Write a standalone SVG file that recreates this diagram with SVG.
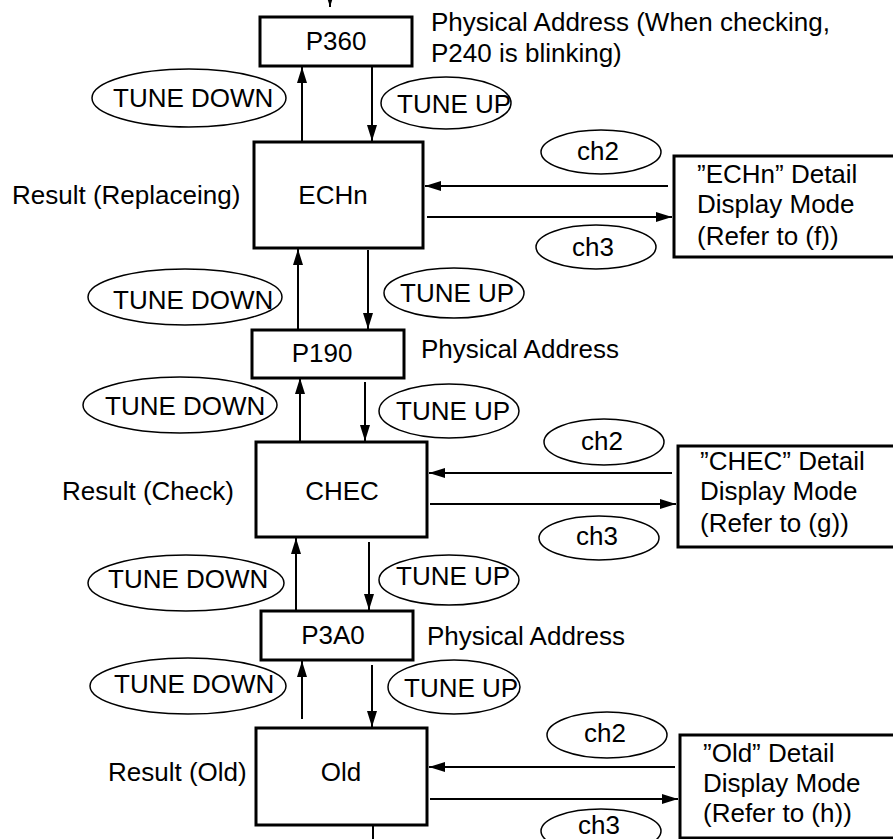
<svg xmlns="http://www.w3.org/2000/svg" width="893" height="839" viewBox="0 0 893 839">
<style>
text{font-family:"Liberation Sans",Arial,sans-serif;font-size:26px;fill:#000}
.box{fill:#fff;stroke:#000;stroke-width:3}
.ell{fill:none;stroke:#000;stroke-width:1.5}
.c{fill:none;stroke:#000;stroke-width:2}
.m{text-anchor:middle}
</style>
<defs>
<marker id="ah" markerUnits="userSpaceOnUse" markerWidth="16" markerHeight="10" refX="16" refY="5" orient="auto">
<path d="M0,0 L16,5 L0,10 z" fill="#000"/>
</marker>
</defs>
<rect width="893" height="839" fill="#fff"/>

<g id="connectors">
<line class="c" x1="330" y1="-10" x2="330" y2="7" marker-end="url(#ah)"/>
<line class="c" x1="302" y1="142" x2="302" y2="67" marker-end="url(#ah)"/>
<line class="c" x1="372" y1="66" x2="372" y2="141" marker-end="url(#ah)"/>
<line class="c" x1="298" y1="330" x2="298" y2="249" marker-end="url(#ah)"/>
<line class="c" x1="368" y1="250" x2="368" y2="329" marker-end="url(#ah)"/>
<line class="c" x1="300" y1="442" x2="300" y2="378" marker-end="url(#ah)"/>
<line class="c" x1="365" y1="382" x2="365" y2="441" marker-end="url(#ah)"/>
<line class="c" x1="296" y1="610" x2="296" y2="538" marker-end="url(#ah)"/>
<line class="c" x1="369" y1="542" x2="369" y2="610" marker-end="url(#ah)"/>
<line class="c" x1="302" y1="719" x2="302" y2="661" marker-end="url(#ah)"/>
<line class="c" x1="372" y1="665" x2="372" y2="727" marker-end="url(#ah)"/>
<line class="c" x1="373" y1="826" x2="373" y2="845"/>
<line class="c" x1="668" y1="186" x2="425" y2="186" marker-end="url(#ah)"/>
<line class="c" x1="427" y1="217" x2="672" y2="217" marker-end="url(#ah)"/>
<line class="c" x1="672" y1="473" x2="429" y2="473" marker-end="url(#ah)"/>
<line class="c" x1="430" y1="504" x2="676" y2="504" marker-end="url(#ah)"/>
<line class="c" x1="675" y1="767" x2="429" y2="767" marker-end="url(#ah)"/>
<line class="c" x1="430" y1="799" x2="678" y2="799" marker-end="url(#ah)"/>
</g>

<g id="labels-tune">
<ellipse class="ell" cx="189" cy="98" rx="97" ry="29"/>
<text x="113" y="107">TUNE DOWN</text>
<ellipse class="ell" cx="446" cy="103" rx="65" ry="26"/>
<text x="397" y="113">TUNE UP</text>
<ellipse class="ell" cx="185" cy="297" rx="97" ry="28"/>
<text x="113" y="309">TUNE DOWN</text>
<ellipse class="ell" cx="454" cy="293" rx="70" ry="25"/>
<text x="400" y="302">TUNE UP</text>
<ellipse class="ell" cx="180" cy="405" rx="97" ry="28"/>
<text x="105" y="415">TUNE DOWN</text>
<ellipse class="ell" cx="449" cy="411" rx="70" ry="27"/>
<text x="396" y="420">TUNE UP</text>
<ellipse class="ell" cx="186" cy="583" rx="98" ry="28"/>
<text x="108" y="588">TUNE DOWN</text>
<ellipse class="ell" cx="449" cy="580" rx="70" ry="25"/>
<text x="396" y="585">TUNE UP</text>
<ellipse class="ell" cx="188" cy="686" rx="98" ry="28"/>
<text x="114" y="693">TUNE DOWN</text>
<ellipse class="ell" cx="454" cy="687" rx="66" ry="27"/>
<text x="404" y="697">TUNE UP</text>
</g>

<g id="labels-ch">
<ellipse class="ell" cx="601" cy="152" rx="60" ry="22"/>
<text class="m" x="598" y="160">ch2</text>
<ellipse class="ell" cx="596" cy="247" rx="60" ry="22"/>
<text class="m" x="593" y="256">ch3</text>
<ellipse class="ell" cx="604" cy="442" rx="60" ry="23"/>
<text class="m" x="602" y="450">ch2</text>
<ellipse class="ell" cx="599" cy="538" rx="60" ry="22"/>
<text class="m" x="597" y="545">ch3</text>
<ellipse class="ell" cx="607" cy="735" rx="60" ry="23"/>
<text class="m" x="605" y="742">ch2</text>
<ellipse class="ell" cx="601" cy="831" rx="60" ry="22"/>
<text class="m" x="599" y="834">ch3</text>
</g>

<g id="P360">
<rect class="box" x="260" y="17" width="152" height="49"/>
<text class="m" x="336" y="50">P360</text>
<text x="431" y="31">Physical Address (When checking,</text>
<text x="431" y="62">P240 is blinking)</text>
</g>

<g id="ECHn">
<rect class="box" x="254" y="142" width="169" height="106"/>
<text class="m" x="333" y="204">ECHn</text>
<text x="12" y="204">Result (Replaceing)</text>
</g>

<g id="ECHn-detail">
<rect class="box" x="674" y="156" width="230" height="101"/>
<text x="697" y="183">”ECHn” Detail</text>
<text x="697" y="213">Display Mode</text>
<text x="697" y="245">(Refer to (f))</text>
</g>

<g id="P190">
<rect class="box" x="252" y="330" width="152" height="48"/>
<text class="m" x="322" y="362">P190</text>
<text x="421" y="358">Physical Address</text>
</g>

<g id="CHEC">
<rect class="box" x="256" y="442" width="171" height="95"/>
<text class="m" x="342" y="500">CHEC</text>
<text x="62" y="500">Result (Check)</text>
</g>

<g id="CHEC-detail">
<rect class="box" x="678" y="446" width="230" height="101"/>
<text x="700" y="470">”CHEC” Detail</text>
<text x="700" y="500">Display Mode</text>
<text x="700" y="532">(Refer to (g))</text>
</g>

<g id="P3A0">
<rect class="box" x="261" y="611" width="152" height="49"/>
<text class="m" x="333" y="644">P3A0</text>
<text x="427" y="645">Physical Address</text>
</g>

<g id="Old">
<rect class="box" x="256" y="728" width="171" height="97"/>
<text class="m" x="341" y="781">Old</text>
<text x="108" y="781">Result (Old)</text>
</g>

<g id="Old-detail">
<rect class="box" x="680" y="735" width="230" height="103"/>
<text x="703" y="762">”Old” Detail</text>
<text x="703" y="792">Display Mode</text>
<text x="703" y="822">(Refer to (h))</text>
</g>
</svg>
